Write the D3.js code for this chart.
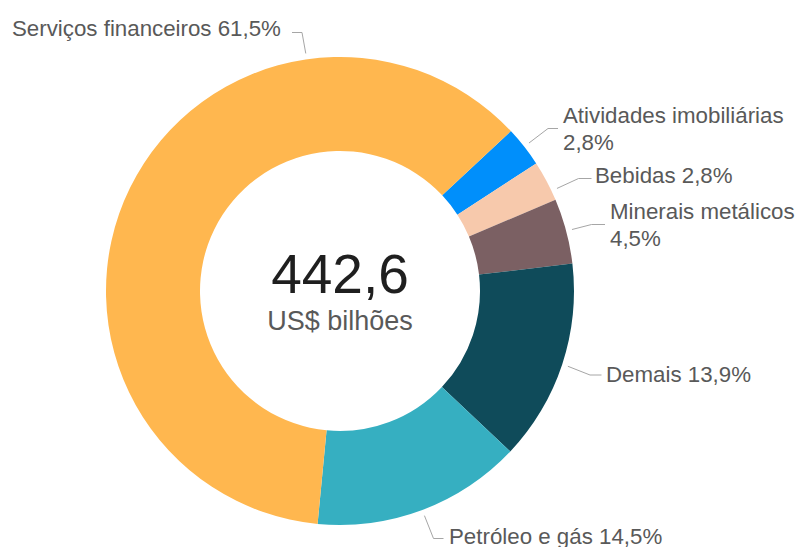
<!DOCTYPE html>
<html>
<head>
<meta charset="utf-8">
<script src="https://cdn.jsdelivr.net/npm/d3@7"></script>
<style>
  html, body { margin: 0; padding: 0; background: #fff; }
  svg { display: block; }
  text { font-family: "Liberation Sans", Arial, Helvetica, sans-serif; }
</style>
</head>
<body>
<svg id="chart" width="799" height="547"></svg>
<script>
// ---- data ----
const categories = ["Atividades imobiliárias", "Bebidas", "Minerais metálicos", "Demais", "Petróleo e gás", "Serviços financeiros"];
const shares = [2.8, 2.8, 4.5, 13.9, 14.5, 61.5];
const sliceColors = ["#008FFB", "#F7C9AC", "#7B6063", "#0F4B5A", "#36AFC1", "#FFB74F"];
const totalValue = "442,6";
const totalUnit = "US$ bilhões";

// ---- layout ----
const W = 799, H = 547;
const cx = 340, cy = 291, R = 234, r = 140;
const startDeg = 46.9;

// label layout: line angle override (deg), elbow point, text anchor point, line breaks
const labelLayout = {
  "Atividades imobiliárias": { elbow: [548, 128.5], end: [558, 128.5], text: [563, 123], lines: ["Atividades imobiliárias", "{v}"] },
  "Bebidas":                 { angle: 64.7, elbow: [578.5, 178.5], end: [591.5, 178.5], text: [595, 183], lines: ["Bebidas {v}"] },
  "Minerais metálicos":      { elbow: [591.5, 224.5], end: [605, 224.5], text: [610, 218.5], lines: ["Minerais metálicos", "{v}"] },
  "Demais":                  { elbow: [590, 375], end: [601.5, 375], text: [606, 382], lines: ["Demais {v}"] },
  "Petróleo e gás":          { elbow: [433.5, 538.5], end: [443.5, 538.5], text: [449, 543.5], lines: ["Petróleo e gás {v}"] },
  "Serviços financeiros":    { angle: 351.8, elbow: [302, 32.5], end: [292, 32.5], text: [12, 35.5], lines: ["Serviços financeiros {v}"] }
};

const svg = d3.select("#chart");
const g = svg.append("g").attr("transform", `translate(${cx},${cy})`);

const data = categories.map((c, i) => ({ cat: c, value: shares[i], color: sliceColors[i] }));
const a0 = startDeg * Math.PI / 180;
const pie = d3.pie().sort(null).value(d => d.value).startAngle(a0).endAngle(a0 + 2 * Math.PI);
const arcs = pie(data);
const arc = d3.arc().innerRadius(r).outerRadius(R);

g.selectAll("path.slice").data(arcs).join("path")
  .attr("class", "slice")
  .attr("d", arc)
  .attr("fill", d => d.data.color);

const fmt = v => v.toFixed(1).replace(".", ",") + "%";

// leader lines + labels
arcs.forEach(d => {
  const L = labelLayout[d.data.cat];
  const ang = L.angle !== undefined ? L.angle * Math.PI / 180 : (d.startAngle + d.endAngle) / 2;
  const rr = R + 6;
  const sx = cx + rr * Math.sin(ang), sy = cy - rr * Math.cos(ang);
  svg.append("polyline")
    .attr("points", [[sx, sy], L.elbow, L.end].map(p => p.join(",")).join(" "))
    .attr("fill", "none")
    .attr("stroke", "#A6A6A6")
    .attr("stroke-width", 1);
  const t = svg.append("text")
    .attr("x", L.text[0]).attr("y", L.text[1])
    .attr("fill", "#595959")
    .attr("font-size", 22.3);
  L.lines.forEach((ln, i) => {
    t.append("tspan").attr("x", L.text[0]).attr("dy", i === 0 ? 0 : 27)
      .text(ln.replace("{v}", fmt(d.data.value)));
  });
});

// center text
g.append("text").attr("text-anchor", "middle").attr("y", 2)
  .attr("font-size", 55).attr("fill", "#1F1F1F").text(totalValue);
g.append("text").attr("text-anchor", "middle").attr("y", 39)
  .attr("font-size", 27).attr("fill", "#595959").text(totalUnit);
</script>
</body>
</html>
